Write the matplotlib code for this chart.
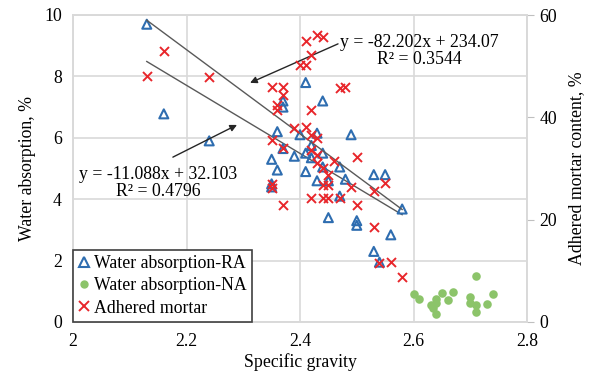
import matplotlib
matplotlib.use("Agg")
import matplotlib.pyplot as plt
import numpy as np
from matplotlib.lines import Line2D

plt.rcParams['font.family'] = ['Liberation Serif', 'DejaVu Serif']

# Water absorption - RA (specific gravity, water absorption %)
ra_sg = [2.13, 2.16, 2.24, 2.41, 2.44, 2.37, 2.37, 2.36, 2.40, 2.43, 2.49, 2.37,
         2.35, 2.39, 2.41, 2.42, 2.44, 2.36, 2.41, 2.44, 2.47, 2.43, 2.45, 2.48,
         2.35, 2.35, 2.53, 2.55, 2.47, 2.45, 2.50, 2.50, 2.58, 2.56, 2.53, 2.54, 2.42]
ra_wa = [9.7, 6.78, 5.9, 7.8, 7.2, 7.2, 7.0, 6.2, 6.1, 6.15, 6.1, 5.65,
         5.3, 5.4, 5.5, 5.35, 5.5, 4.95, 4.9, 5.05, 5.05, 4.6, 4.6, 4.65,
         4.5, 4.4, 4.8, 4.8, 4.1, 3.4, 3.3, 3.15, 3.68, 2.84, 2.3, 1.95, 5.75]

# Water absorption - NA
na_sg = [2.71, 2.60, 2.61, 2.63, 2.64, 2.64, 2.65, 2.66, 2.67, 2.64, 2.70, 2.70,
         2.71, 2.71, 2.73, 2.74, 2.635]
na_wa = [1.5, 0.91, 0.75, 0.55, 0.75, 0.62, 0.95, 0.72, 0.98, 0.26, 0.81, 0.62,
         0.55, 0.33, 0.59, 0.91, 0.45]

# Adhered mortar content (%)
am_sg = [2.13, 2.16, 2.24, 2.41, 2.43, 2.44, 2.42, 2.40, 2.41, 2.47, 2.48, 2.35,
         2.37, 2.37, 2.36, 2.36, 2.42, 2.39, 2.41, 2.42, 2.43, 2.35, 2.37, 2.42,
         2.43, 2.50, 2.43, 2.44, 2.46, 2.45, 2.35, 2.44, 2.45, 2.49, 2.53, 2.55,
         2.42, 2.44, 2.45, 2.47, 2.37, 2.50, 2.53, 2.54, 2.56, 2.58, 2.35]
am_val = [48.1, 53.0, 47.9, 54.9, 56.1, 55.7, 52.2, 50.2, 50.2, 45.7, 46.0, 46.0,
          46.0, 44.4, 42.4, 41.4, 41.4, 38.0, 38.1, 36.5, 36.0, 35.6, 34.0, 33.6,
          32.6, 32.3, 31.1, 30.1, 31.5, 28.7, 26.2, 26.8, 26.8, 26.3, 25.7, 27.2,
          24.2, 24.2, 24.2, 24.2, 22.9, 22.9, 18.6, 11.5, 11.7, 8.8, 27.0]

# Trendline coefficients (from the chart)
wa_slope, wa_int = -11.088, 32.103
am_slope, am_int = -82.202, 234.07
trend_x = [2.13, 2.58]

x_ticks = [2, 2.2, 2.4, 2.6, 2.8]
x_ticklabels = ['2', '2.2', '2.4', '2.6', '2.8']
yl_ticks = [0, 2, 4, 6, 8, 10]
yr_ticks = [0, 20, 40, 60]

blue = '#2E6DB0'
red = '#E8262B'
green = '#8CC46A'
grid_c = '#D9D9D9'
fs = 12.8

fig = plt.figure(figsize=(5.92, 3.85), dpi=100)
ax1 = fig.add_axes([73/592, 1-322/385, (527-73)/592, (322-15)/385])
ax2 = ax1.twinx()

ax1.set_xlim(2, 2.8)
ax1.set_ylim(0, 10)
ax2.set_ylim(0, 60)
ax1.set_xticks(x_ticks)
ax1.set_xticklabels(x_ticklabels)
ax1.set_yticks(yl_ticks)
ax2.set_yticks(yr_ticks)

ax1.grid(True, color=grid_c, lw=1.2, zorder=0)
ax1.set_axisbelow(True)
for ax in (ax1, ax2):
    for s in ax.spines.values():
        s.set_color(grid_c)
        s.set_linewidth(1.2)
ax1.tick_params(axis='both', length=0, labelsize=fs, pad=8)
ax2.tick_params(axis='y', length=5, color='#BFBFBF', labelsize=fs, pad=4)

# Trendlines
tx = np.array(trend_x)
ax1.plot(tx, wa_slope * tx + wa_int, color='#595959', lw=1.0, zorder=2)
ax2.plot(tx, am_slope * tx + am_int, color='#595959', lw=1.0, zorder=2)

ax1.scatter(ra_sg, ra_wa, marker='^', facecolors='none', edgecolors=blue,
            s=42, linewidths=1.5, zorder=3)
ax1.scatter(na_sg, na_wa, marker='o', color=green, s=38, zorder=3, linewidths=0)
ax2.scatter(am_sg, am_val, marker='x', color=red, s=42, linewidths=1.4, zorder=4)

# Equations with arrows
ax1.annotate('', xy=(2.312, 7.79), xytext=(2.467, 9.06),
             arrowprops=dict(arrowstyle='-|>', color='#262626', lw=1.0,
                             mutation_scale=10, shrinkA=0, shrinkB=0))
ax1.text(2.61, 8.83, 'y = -82.202x + 234.07\nR² = 0.3544', ha='center', va='center',
         fontsize=fs, linespacing=1.0, zorder=5)
ax1.annotate('', xy=(2.289, 6.42), xytext=(2.176, 5.37),
             arrowprops=dict(arrowstyle='-|>', color='#262626', lw=1.0,
                             mutation_scale=10, shrinkA=0, shrinkB=0))
ax1.text(2.15, 4.53, 'y = -11.088x + 32.103\nR² = 0.4796', ha='center', va='center',
         fontsize=fs, linespacing=1.0, zorder=5)

ax1.set_xlabel('Specific gravity', fontsize=fs, labelpad=2)
ax1.set_ylabel('Water absorption, %', fontsize=fs, labelpad=6)
ax2.set_ylabel('Adhered mortar content, %', fontsize=fs, labelpad=8)

handles = [
    Line2D([], [], marker='^', ls='none', markerfacecolor='none', markeredgecolor=blue,
           markersize=7, markeredgewidth=1.5),
    Line2D([], [], marker='o', ls='none', color=green, markersize=5),
    Line2D([], [], marker='x', ls='none', color=red, markersize=7, markeredgewidth=1.4),
]
labels = ['Water absorption-RA', 'Water absorption-NA', 'Adhered mortar']
leg = ax2.legend(handles, labels, loc='lower left', bbox_to_anchor=(0, 0),
                 borderaxespad=0, fontsize=fs, handlelength=0.6, handletextpad=0.3,
                 labelspacing=0.3, borderpad=0.3, fancybox=False, framealpha=1,
                 edgecolor='#404040')
leg.get_frame().set_linewidth(1.2)
leg.set_zorder(10)

fig.savefig('out.png', dpi=100)
